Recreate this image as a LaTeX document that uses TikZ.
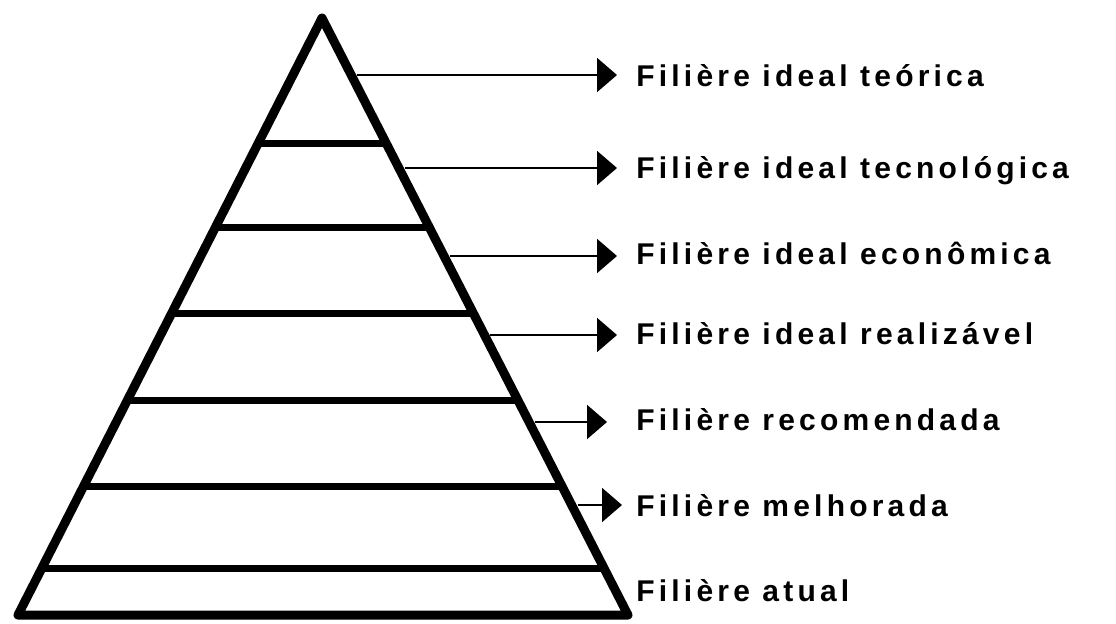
\documentclass[tikz,border=0pt]{standalone}
\usepackage{fontspec}
\usepackage{tikz}
\usetikzlibrary{arrows.meta,calc}
\newfontfamily\levelfont{Liberation Sans}[LetterSpace=14]

\begin{document}
\begin{tikzpicture}[
  x=0.5pt, y=-0.5pt,
  edge/.style={line width=4.5pt, line join=round, line cap=round},
  level/.style={line width=3.5pt},
  arrow/.style={-{Triangle[length=10pt, width=17pt]}, line width=1pt, shorten >=9.5pt},
  tag/.style={anchor=base west, inner sep=0pt, font={\levelfont\bfseries\fontsize{15}{17}\selectfont}}
]
\useasboundingbox (0,0) rectangle (1116,623);

\coordinate (apex) at (322,18);
\coordinate (left) at (18,615);
\coordinate (right) at (628,615);

% levels of the pyramid
\foreach \y in {143,227,313,400,486,568}
  \draw[level] ($(apex)!{(\y-18)/597}!(left)$) -- ($(apex)!{(\y-18)/597}!(right)$);
\draw[edge] (apex) -- (left) -- (right) -- cycle;

\node[tag] (teorica) at (636,86) {Filière ideal teórica};
\node[tag] (tecno) at (636,178) {Filière ideal tecnológica};
\node[tag] (econ) at (636,264) {Filière ideal econômica};
\node[tag] (realiz) at (636,344) {Filière ideal realizável};
\node[tag] (recom) at (636,430) {Filière recomendada};
\node[tag] (melhor) at (636,516) {Filière melhorada};
\node[tag] (atual) at (636,601) {Filière atual};

% arrows start on the right side
\coordinate (s1) at ($(apex)!{(75-18)/597}!(right) + (6,0)$);
\coordinate (s2) at ($(apex)!{(168-18)/597}!(right) + (6,0)$);
\coordinate (s3) at ($(apex)!{(256-18)/597}!(right) + (6,0)$);
\coordinate (s4) at ($(apex)!{(335-18)/597}!(right) + (6,0)$);
\coordinate (s5) at ($(apex)!{(422-18)/597}!(right) + (6,0)$);
\coordinate (s6) at ($(apex)!{(505-18)/597}!(right) + (6,0)$);

\draw[arrow] (s1) -- (s1 -| teorica.west);
\draw[arrow] (s2) -- (s2 -| tecno.west);
\draw[arrow] (s3) -- (s3 -| econ.west);
\draw[arrow] (s4) -- (s4 -| realiz.west);
\draw[arrow, shorten >=14.5pt] (s5) -- (s5 -| recom.west);
\draw[arrow, shorten >=7pt] (s6) -- (s6 -| melhor.west);
\end{tikzpicture}
\end{document}
